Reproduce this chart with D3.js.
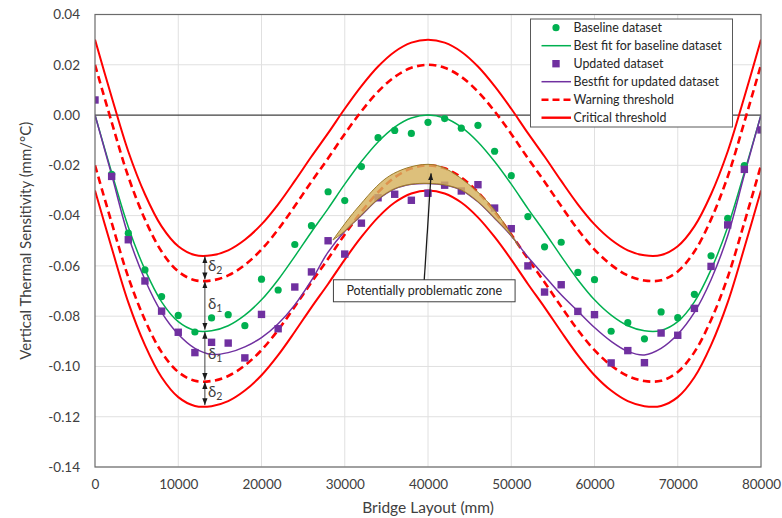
<!DOCTYPE html>
<html>
<head>
<meta charset="utf-8">
<script src="https://cdn.jsdelivr.net/npm/d3@7"></script>
<style>
body{margin:0;background:#fff;}
text{font-family:Lato,"Noto Sans",sans-serif;}
</style>
</head>
<body>
<div id="graph"></div>
<script>
//setting dimension
var width=782, height=518;
var margin={top:14.5,right:21,bottom:51,left:95};

//data
var xTicks=[0,10000,20000,30000,40000,50000,60000,70000,80000];
var yTicks=[0.04,0.02,0,-0.02,-0.04,-0.06,-0.08,-0.10,-0.12,-0.14];

var dotX=[0,2000,4000,6000,8000,10000,12000,14000,16000,18000,20000,22000,24000,26000,28000,30000,
  32000,34000,36000,38000,40000,42000,44000,46000,48000,50000,52000,54000,56000,58000,60000,
  62000,64000,66000,68000,70000,72000,74000,76000,78000,80000];
var baselineVals=[null,-0.0236,-0.047,-0.0616,-0.0722,-0.0797,-0.0863,-0.0807,-0.0794,-0.0838,-0.0653,
  -0.0696,-0.0515,-0.044,-0.0305,-0.034,-0.0205,-0.009,-0.0061,-0.0073,-0.0029,-0.0014,-0.0052,
  -0.0041,-0.0144,-0.0241,-0.0404,-0.0524,-0.0506,-0.0626,-0.0655,-0.086,-0.0826,-0.089,-0.0783,
  -0.0806,-0.0713,-0.056,-0.0411,-0.0201,null];
var updatedVals=[0.006,-0.0244,-0.0496,-0.066,-0.078,-0.0864,-0.0945,-0.0904,-0.0907,-0.0966,-0.0793,
  -0.085,-0.0684,-0.0624,-0.050,-0.0553,-0.043,-0.0329,-0.0315,-0.0339,-0.0311,-0.0279,-0.0302,
  -0.0277,-0.037,-0.0452,-0.060,-0.0704,-0.0675,-0.0781,-0.0794,-0.0986,-0.0937,-0.0985,-0.0867,
  -0.0876,-0.0769,-0.0602,-0.0437,-0.0216,-0.0059];

// fitted curves, sampled every 2000 mm
var baseFitVals=[0,-0.0228,-0.0445,-0.0615,-0.0743,-0.0822,-0.0857,-0.0858,-0.0838,-0.0796,-0.0735,
  -0.0655,-0.0562,-0.0465,-0.0372,-0.0275,-0.0185,-0.0107,-0.0048,-0.0012,0,-0.0012,-0.0048,
  -0.0107,-0.0185,-0.0275,-0.0372,-0.0465,-0.0562,-0.0655,-0.0735,-0.0796,-0.0838,-0.0858,-0.0857,
  -0.0822,-0.0743,-0.0615,-0.0445,-0.0228,0];
var updFitVals=[0,-0.0238,-0.048,-0.0655,-0.0785,-0.0872,-0.0928,-0.0952,-0.0945,-0.0922,-0.0885,
  -0.083,-0.0755,-0.0658,-0.0545,-0.0462,-0.0398,-0.0335,-0.0293,-0.0275,-0.0272,-0.0278,-0.0298,
  -0.0345,-0.041,-0.048,-0.0565,-0.064,-0.0715,-0.078,-0.0845,-0.090,-0.094,-0.0954,-0.0928,
  -0.0872,-0.0785,-0.0655,-0.048,-0.0238,0];

// thresholds = baseline fit +/- delta1, +/- (delta1+delta2)
var delta1=0.02, delta2=0.01;

// hand drawn zone: upper edge, lower edge follows updated fit
var zoneTop=[[28580,-0.0497],[31380,-0.0375],[35370,-0.0242],[39370,-0.0197],[41770,-0.0208],
  [45770,-0.0300],[48160,-0.0385],[50960,-0.0525]];
var deltaX=13200;
var calloutText="Potentially problematic zone";
var calloutAt=[39550,-0.0699], calloutTip=[40370,-0.0232];

var legendItems=[["Baseline dataset","dot"],["Best fit for baseline dataset","green"],
  ["Updated dataset","square"],["Bestfit for updated dataset","purple"],
  ["Warning threshold","dash"],["Critical threshold","solid"]];

var GREEN="#00b050", PURPLE="#7030a0", RED="#ff0000";

var svg=d3.select("#graph").append("svg")
  .attr("width",width).attr("height",height);

var x=d3.scaleLinear().domain([0,80000]).range([margin.left,width-margin.right]);
var y=d3.scaleLinear().domain([-0.14,0.04]).range([height-margin.bottom,margin.top]);

var defs=svg.append("defs");
defs.append("clipPath").attr("id","clip")
  .append("rect").attr("x",x(0)).attr("y",y(0.04))
  .attr("width",x(80000)-x(0)).attr("height",y(-0.14)-y(0.04));
defs.append("marker").attr("id","arr")
  .attr("viewBox","0 0 8 6").attr("refX",8).attr("refY",3)
  .attr("markerWidth",7).attr("markerHeight",6)
  .attr("markerUnits","userSpaceOnUse")
  .attr("orient","auto-start-reverse")
  .append("path").attr("d","M0,0L8,3L0,6Z").attr("fill","#1a1a1a");

//grid
svg.append("g").selectAll("line").data(xTicks.slice(1,-1)).enter().append("line")
  .attr("x1",function(d){return x(d);}).attr("x2",function(d){return x(d);})
  .attr("y1",y(0.04)).attr("y2",y(-0.14))
  .attr("stroke","#e0e0e0").attr("stroke-width",1);
svg.append("g").selectAll("line").data(yTicks.filter(function(d){return d!==0;})).enter().append("line")
  .attr("y1",function(d){return y(d);}).attr("y2",function(d){return y(d);})
  .attr("x1",x(0)).attr("x2",x(80000))
  .attr("stroke","#e0e0e0").attr("stroke-width",1);
svg.append("line").attr("x1",x(0)).attr("x2",x(80000))
  .attr("y1",y(0)).attr("y2",y(0))
  .attr("stroke","#404040").attr("stroke-width",1.2);

//axes
var xAxis=svg.append("g").attr("transform","translate(0,"+y(-0.14)+")")
  .call(d3.axisBottom(x).tickValues(xTicks).tickSize(0).tickPadding(12).tickFormat(d3.format("d")));
var yAxis=svg.append("g").attr("transform","translate("+x(0)+",0)")
  .call(d3.axisLeft(y).tickValues(yTicks).tickSize(0).tickPadding(15)
    .tickFormat(function(d){return d.toFixed(2);}));
[xAxis,yAxis].forEach(function(a){
  a.select(".domain").remove();
  a.selectAll("text").attr("fill","#404040").style("font-size","13.5px")
    .style("font-family","Lato,'Noto Sans',sans-serif");
});

svg.append("text").attr("x",(x(0)+x(80000))/2).attr("y",513)
  .attr("text-anchor","middle").attr("fill","#404040").style("font-size","15.5px")
  .text("Bridge Layout (mm)");
svg.append("text")
  .attr("transform","translate(31,"+((y(0.04)+y(-0.14))/2)+") rotate(-90)")
  .attr("text-anchor","middle").attr("fill","#404040").style("font-size","15px")
  .text("Vertical Thermal Sensitivity (mm/°C)");

//curves
var plot=svg.append("g").attr("clip-path","url(#clip)");
var line=d3.line()
  .x(function(d,i){return x(dotX[i]);})
  .y(function(d){return y(d);})
  .curve(d3.curveCatmullRom.alpha(0.5));

function shifted(off){return baseFitVals.map(function(v){return v+off;});}
var thresholds=[
  [delta1+delta2,false],[delta1,true],[-delta1,true],[-(delta1+delta2),false]
];
thresholds.forEach(function(t){
  plot.append("path").attr("d",line(shifted(t[0])))
    .attr("fill","none").attr("stroke",RED)
    .attr("stroke-width",t[1]?2.6:2)
    .attr("stroke-dasharray",t[1]?"7.5,4.5":null);
});

plot.append("path").attr("d",line(baseFitVals))
  .attr("fill","none").attr("stroke",GREEN).attr("stroke-width",1.5);
plot.append("path").attr("d",line(updFitVals))
  .attr("fill","none").attr("stroke",PURPLE).attr("stroke-width",1.5);

//points
plot.append("g").selectAll("circle")
  .data(baselineVals.map(function(v,i){return [dotX[i],v];}).filter(function(d){return d[1]!==null;}))
  .enter().append("circle")
  .attr("cx",function(d){return x(d[0]);}).attr("cy",function(d){return y(d[1]);})
  .attr("r",3.6).attr("fill",GREEN);
plot.append("g").selectAll("rect")
  .data(updatedVals.map(function(v,i){return [dotX[i],v];}))
  .enter().append("rect")
  .attr("x",function(d){return x(d[0])-3.7;}).attr("y",function(d){return y(d[1])-3.7;})
  .attr("width",7.4).attr("height",7.4).attr("fill",PURPLE);

//problematic zone
var zl=d3.line().x(function(d){return x(d[0]);}).y(function(d){return y(d[1]);})
  .curve(d3.curveCatmullRom.alpha(0.5));
var zoneBottom=dotX.map(function(v,i){return [v,updFitVals[i]];})
  .filter(function(d){return d[0]>zoneTop[0][0]&&d[0]<zoneTop[zoneTop.length-1][0];})
  .reverse();
zoneBottom.unshift(zoneTop[zoneTop.length-1]);
zoneBottom.push(zoneTop[0]);
svg.append("path")
  .attr("d",zl(zoneTop)+zl(zoneBottom).replace(/^M/,"L")+"Z")
  .attr("fill","#d6b25e").attr("fill-opacity",0.82)
  .attr("stroke","#9a7a2a").attr("stroke-width",1);

//delta arrows
var fitMin=d3.min(baseFitVals);
var levels=[fitMin+delta1+delta2,fitMin+delta1,fitMin,fitMin-delta1,fitMin-delta1-delta2];
var dLabels=["2","1","1","2"];
for(var i=0;i<4;i++){
  var y1=y(levels[i])+1, y2=y(levels[i+1])-1;
  svg.append("line").attr("x1",x(deltaX)).attr("x2",x(deltaX))
    .attr("y1",y1).attr("y2",y2)
    .attr("stroke","#404040").attr("stroke-width",1)
    .attr("marker-start","url(#arr)").attr("marker-end","url(#arr)");
  var t=svg.append("text").attr("x",x(deltaX)+3).attr("y",(y1+y2)/2+3)
    .attr("fill","#404040").style("font-size","15px").text("δ");
  t.append("tspan").attr("dy",3.5).style("font-size","10.5px").text(dLabels[i]);
}

//callout
var cx=x(calloutAt[0]), cy=y(calloutAt[1]);
var box=svg.append("rect");
var ct=svg.append("text").attr("x",cx).attr("y",cy+4.5)
  .attr("text-anchor","middle").attr("fill","#262626").style("font-size","12.5px")
  .text(calloutText);
var tw=ct.node().getComputedTextLength();
box.attr("x",cx-tw/2-13).attr("y",cy-11).attr("width",tw+26).attr("height",22)
  .attr("fill","#fff").attr("stroke","#404040").attr("stroke-width",1);
svg.append("line").attr("x1",cx).attr("y1",cy-11)
  .attr("x2",x(calloutTip[0])).attr("y2",y(calloutTip[1]))
  .attr("stroke","#1a1a1a").attr("stroke-width",1.3)
  .attr("marker-end","url(#arr)");

//plot border
svg.append("rect").attr("x",x(0)).attr("y",y(0.04))
  .attr("width",x(80000)-x(0)).attr("height",y(-0.14)-y(0.04))
  .attr("fill","none").attr("stroke","#6b6b6b").attr("stroke-width",1.2);

//legend
var legend=svg.append("g");
legend.append("rect").attr("x",530.5).attr("y",19).attr("width",202).attr("height",108)
  .attr("fill","#fff").attr("stroke","#595959").attr("stroke-width",1);
var rows=legend.selectAll("g.row").data(legendItems).enter().append("g")
  .attr("transform",function(d,i){return "translate(0,"+(27.7+i*18)+")";});
rows.each(function(d){
  var g=d3.select(this);
  if(d[1]==="dot"){
    g.append("circle").attr("cx",556).attr("cy",0).attr("r",3.6).attr("fill",GREEN);
  }else if(d[1]==="square"){
    g.append("rect").attr("x",552.3).attr("y",-3.7).attr("width",7.4).attr("height",7.4).attr("fill",PURPLE);
  }else{
    var col=d[1]==="green"?GREEN:d[1]==="purple"?PURPLE:RED;
    g.append("line").attr("x1",541.5).attr("x2",571).attr("y1",0).attr("y2",0)
      .attr("stroke",col)
      .attr("stroke-width",d[1]==="dash"||d[1]==="solid"?2.4:1.5)
      .attr("stroke-dasharray",d[1]==="dash"?"7,4":null);
  }
  g.append("text").attr("x",573.5).attr("y",4.3)
    .attr("fill","#262626").style("font-size","12.4px").text(d[0]);
});
</script>
</body>
</html>
